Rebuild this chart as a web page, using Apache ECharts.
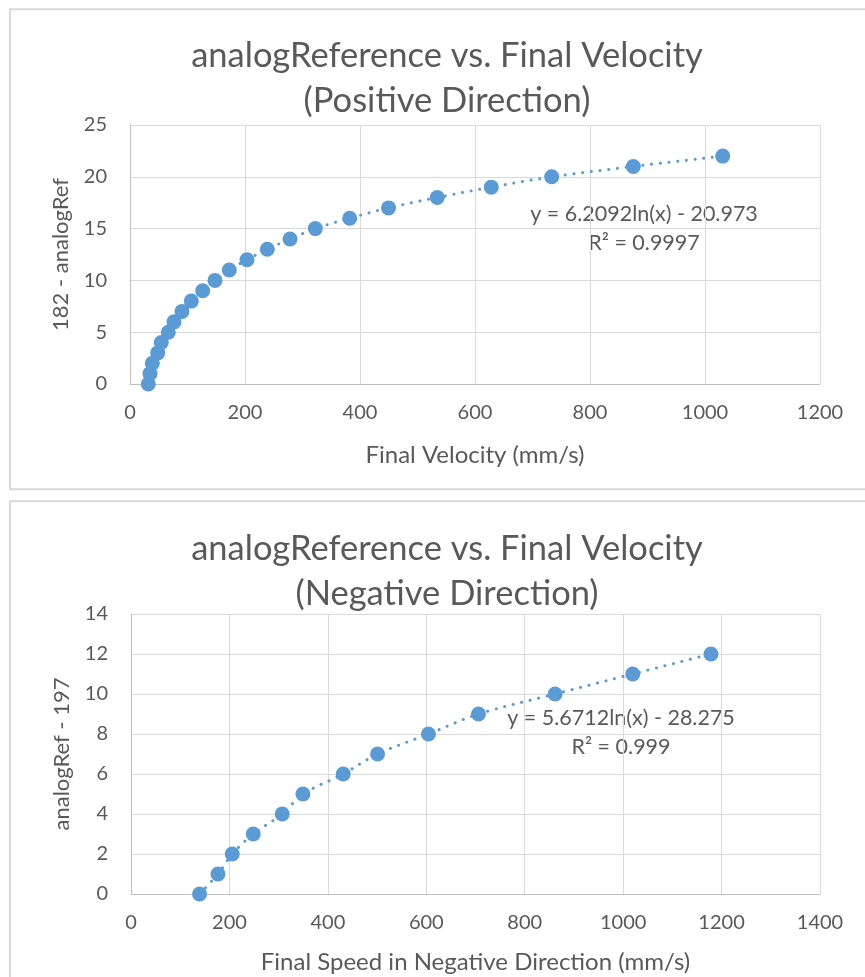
<!DOCTYPE html>
<html>
<head>
<meta charset="utf-8">
<script src="https://cdn.jsdelivr.net/npm/echarts@6/dist/echarts.min.js"></script>
<style>
  html, body { margin: 0; padding: 0; background: #fff; }
  #main { width: 865px; height: 977px; }
</style>
</head>
<body>
<div id="main"></div>
<script>
// top chart: positive direction
var posVelocity = [31.8, 34.8, 38.8, 48.2, 54.4, 66.6, 76.5, 90.4, 106.6, 126.4, 147.8, 172.7,
                   203.5, 238.8, 278.3, 322.3, 382.1, 449.6, 534.4, 628.3, 733.4, 875.3, 1030.8];
var posRef = [0, 1, 2, 3, 4, 5, 6, 7, 8, 9, 10, 11, 12, 13, 14, 15, 16, 17, 18, 19, 20, 21, 22];
var posEquation = ['y = 6.2092ln(x) - 20.973', 'R\u00b2 = 0.9997'];

// bottom chart: negative direction
var negSpeed = [139.3, 176.7, 205.7, 248.4, 307.3, 349.3, 431.2, 501, 604.4, 706, 861.7, 1019.5, 1178.5];
var negRef = [0, 1, 2, 3, 4, 5, 6, 7, 8, 9, 10, 11, 12];
var negEquation = ['y = 5.6712ln(x) - 28.275', 'R\u00b2 = 0.999'];

var FONT = 'Lato';
var TEXT = '#595959';
var BLUE = '#5b9bd5';

function pairs(xs, ys) {
  var out = [];
  for (var i = 0; i < xs.length; i++) out.push([xs[i], ys[i]]);
  return out;
}

function xAxisOf(idx, max, name, gap) {
  return {
    type: 'value', gridIndex: idx, min: 0, max: max, interval: 200,
    name: name, nameLocation: 'middle', nameGap: gap,
    nameTextStyle: { color: TEXT, fontFamily: FONT, fontSize: 24 },
    axisLine: { show: true, onZero: false, lineStyle: { color: '#bfbfbf', width: 1 } },
    axisTick: { show: false },
    axisLabel: { color: TEXT, fontFamily: FONT, fontSize: 20, margin: 19, formatter: function (v) { return String(v); } },
    splitLine: { show: true, lineStyle: { color: '#d9d9d9', width: 1 } }
  };
}

function yAxisOf(idx, max, interval, name) {
  return {
    type: 'value', gridIndex: idx, min: 0, max: max, interval: interval,
    name: name, nameLocation: 'middle', nameGap: 58, nameRotate: 90,
    nameTextStyle: { color: TEXT, fontFamily: FONT, fontSize: 22 },
    axisLine: { show: true, lineStyle: { color: '#bfbfbf', width: 1 } },
    axisTick: { show: false },
    axisLabel: { color: TEXT, fontFamily: FONT, fontSize: 20, margin: 23 },
    splitLine: { show: true, lineStyle: { color: '#d9d9d9', width: 1 } }
  };
}

function trend(idx, data) {
  return {
    type: 'line', xAxisIndex: idx, yAxisIndex: idx, data: data,
    smooth: 0.3, showSymbol: false, silent: true, z: 2,
    lineStyle: { color: BLUE, width: 3, type: [0.1, 8.6], cap: 'round' }
  };
}

function dots(idx, data) {
  return {
    type: 'scatter', xAxisIndex: idx, yAxisIndex: idx, data: data,
    symbol: 'circle', symbolSize: 15, z: 3,
    itemStyle: { color: BLUE, opacity: 1 }
  };
}

function eqText(lines, cx, y) {
  return [
    { type: 'text', silent: true, style: { text: lines[0], x: cx, y: y, align: 'center', verticalAlign: 'middle', fill: TEXT, font: '21.5px ' + FONT } },
    { type: 'text', silent: true, style: { text: lines[1], x: cx, y: y + 29, align: 'center', verticalAlign: 'middle', fill: TEXT, font: '21.5px ' + FONT } }
  ];
}

var myChart = echarts.init(document.getElementById('main'));

var option = {
  backgroundColor: '#fff',
  animation: false,
  title: [
    {
      text: 'analogReference vs. Final Velocity\n(Positive Direction)',
      left: 442, top: 28, textAlign: 'center',
      textStyle: { color: TEXT, fontFamily: FONT, fontSize: 34.5, fontWeight: 'normal', lineHeight: 45 }
    },
    {
      text: 'analogReference vs. Final Velocity\n(Negative Direction)',
      left: 442, top: 521, textAlign: 'center',
      textStyle: { color: TEXT, fontFamily: FONT, fontSize: 34.5, fontWeight: 'normal', lineHeight: 45 }
    }
  ],
  grid: [
    { left: 130, top: 125, width: 690, height: 259 },
    { left: 131, top: 614, width: 689, height: 280 }
  ],
  xAxis: [
    xAxisOf(0, 1200, 'Final Velocity (mm/s)', 59),
    xAxisOf(1, 1400, 'Final Speed in Negative Direction (mm/s)', 56)
  ],
  yAxis: [
    yAxisOf(0, 25, 5, '182 - analogRef'),
    yAxisOf(1, 14, 2, 'analogRef - 197')
  ],
  graphic: [
    { type: 'rect', silent: true, shape: { x: 10, y: 9.3, width: 900, height: 480 }, style: { fill: 'none', stroke: '#d9d9d9', lineWidth: 2 } },
    { type: 'rect', silent: true, shape: { x: 10, y: 501.3, width: 900, height: 600 }, style: { fill: 'none', stroke: '#d9d9d9', lineWidth: 2 } }
  ].concat(eqText(posEquation, 644, 214), eqText(negEquation, 621, 718)),
  series: [
    trend(0, pairs(posVelocity, posRef)),
    dots(0, pairs(posVelocity, posRef)),
    trend(1, pairs(negSpeed, negRef)),
    dots(1, pairs(negSpeed, negRef))
  ]
};
myChart.setOption(option);
</script>
</body>
</html>
